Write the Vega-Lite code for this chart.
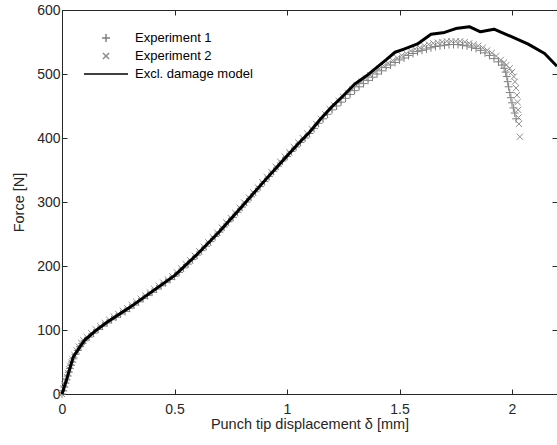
{
  "$schema": "https://vega.github.io/schema/vega-lite/v6.json",
  "width": 495,
  "height": 384,
  "autosize": "none",
  "padding": {"left": 62, "top": 10, "right": 0, "bottom": 51},
  "background": "white",
  "config": {
    "view": {"stroke": null},
    "font": "Liberation Sans",
    "axis": {"grid": false, "domainColor": "#262626", "tickColor": "#262626", "labelColor": "#262626", "titleColor": "#262626", "labelFont": "Liberation Sans", "titleFont": "Liberation Sans", "labelFontSize": 14, "titleFontSize": 14.5, "titleFontWeight": "normal", "tickSize": -5, "domainWidth": 1, "tickWidth": 1}
  },
  "datasets": {
    "exp": [
      {"x":0,"F":0,"s":"Experiment 1"},{"x":0.005,"F":5,"s":"Experiment 1"},{"x":0.01,"F":11,"s":"Experiment 1"},{"x":0.015,"F":17,"s":"Experiment 1"},{"x":0.02,"F":22,"s":"Experiment 1"},{"x":0.025,"F":28,"s":"Experiment 1"},{"x":0.03,"F":34,"s":"Experiment 1"},{"x":0.035,"F":40,"s":"Experiment 1"},{"x":0.04,"F":45,"s":"Experiment 1"},{"x":0.045,"F":50,"s":"Experiment 1"},{"x":0.05,"F":55,"s":"Experiment 1"},{"x":0.06,"F":62,"s":"Experiment 1"},{"x":0.07,"F":68,"s":"Experiment 1"},{"x":0.08,"F":74,"s":"Experiment 1"},{"x":0.09,"F":79,"s":"Experiment 1"},{"x":0.1,"F":83,"s":"Experiment 1"},{"x":0.12,"F":89,"s":"Experiment 1"},{"x":0.14,"F":95,"s":"Experiment 1"},{"x":0.16,"F":101,"s":"Experiment 1"},{"x":0.18,"F":106,"s":"Experiment 1"},{"x":0.2,"F":111,"s":"Experiment 1"},{"x":0.22,"F":116,"s":"Experiment 1"},{"x":0.24,"F":120,"s":"Experiment 1"},{"x":0.26,"F":125,"s":"Experiment 1"},{"x":0.28,"F":129,"s":"Experiment 1"},{"x":0.3,"F":134,"s":"Experiment 1"},{"x":0.32,"F":139,"s":"Experiment 1"},{"x":0.34,"F":144,"s":"Experiment 1"},{"x":0.36,"F":149,"s":"Experiment 1"},{"x":0.38,"F":154,"s":"Experiment 1"},{"x":0.4,"F":159,"s":"Experiment 1"},{"x":0.42,"F":164,"s":"Experiment 1"},{"x":0.44,"F":169,"s":"Experiment 1"},{"x":0.46,"F":174,"s":"Experiment 1"},{"x":0.48,"F":179,"s":"Experiment 1"},{"x":0.5,"F":184,"s":"Experiment 1"},{"x":0.52,"F":190,"s":"Experiment 1"},{"x":0.54,"F":197,"s":"Experiment 1"},{"x":0.56,"F":203,"s":"Experiment 1"},{"x":0.58,"F":210,"s":"Experiment 1"},{"x":0.6,"F":217,"s":"Experiment 1"},{"x":0.62,"F":224,"s":"Experiment 1"},{"x":0.64,"F":231,"s":"Experiment 1"},{"x":0.66,"F":238,"s":"Experiment 1"},{"x":0.68,"F":246,"s":"Experiment 1"},{"x":0.7,"F":253,"s":"Experiment 1"},{"x":0.72,"F":261,"s":"Experiment 1"},{"x":0.74,"F":269,"s":"Experiment 1"},{"x":0.76,"F":276,"s":"Experiment 1"},{"x":0.78,"F":284,"s":"Experiment 1"},{"x":0.8,"F":292,"s":"Experiment 1"},{"x":0.82,"F":300,"s":"Experiment 1"},{"x":0.84,"F":308,"s":"Experiment 1"},{"x":0.86,"F":316,"s":"Experiment 1"},{"x":0.88,"F":324,"s":"Experiment 1"},{"x":0.9,"F":332,"s":"Experiment 1"},{"x":0.92,"F":340,"s":"Experiment 1"},{"x":0.94,"F":348,"s":"Experiment 1"},{"x":0.96,"F":356,"s":"Experiment 1"},{"x":0.98,"F":364,"s":"Experiment 1"},{"x":1,"F":371,"s":"Experiment 1"},{"x":1.02,"F":379,"s":"Experiment 1"},{"x":1.04,"F":386,"s":"Experiment 1"},{"x":1.06,"F":393,"s":"Experiment 1"},{"x":1.08,"F":400,"s":"Experiment 1"},{"x":1.1,"F":407,"s":"Experiment 1"},{"x":1.12,"F":415,"s":"Experiment 1"},{"x":1.14,"F":423,"s":"Experiment 1"},{"x":1.16,"F":430,"s":"Experiment 1"},{"x":1.18,"F":437,"s":"Experiment 1"},{"x":1.2,"F":444,"s":"Experiment 1"},{"x":1.22,"F":450,"s":"Experiment 1"},{"x":1.24,"F":456,"s":"Experiment 1"},{"x":1.26,"F":462,"s":"Experiment 1"},{"x":1.28,"F":468,"s":"Experiment 1"},{"x":1.3,"F":474,"s":"Experiment 1"},{"x":1.32,"F":480,"s":"Experiment 1"},{"x":1.34,"F":485,"s":"Experiment 1"},{"x":1.36,"F":490,"s":"Experiment 1"},{"x":1.38,"F":495,"s":"Experiment 1"},{"x":1.4,"F":500,"s":"Experiment 1"},{"x":1.42,"F":505,"s":"Experiment 1"},{"x":1.44,"F":510,"s":"Experiment 1"},{"x":1.46,"F":514,"s":"Experiment 1"},{"x":1.48,"F":518,"s":"Experiment 1"},{"x":1.5,"F":522,"s":"Experiment 1"},{"x":1.52,"F":525,"s":"Experiment 1"},{"x":1.54,"F":529,"s":"Experiment 1"},{"x":1.56,"F":532,"s":"Experiment 1"},{"x":1.58,"F":535,"s":"Experiment 1"},{"x":1.6,"F":537,"s":"Experiment 1"},{"x":1.62,"F":539,"s":"Experiment 1"},{"x":1.64,"F":541,"s":"Experiment 1"},{"x":1.66,"F":543,"s":"Experiment 1"},{"x":1.68,"F":544,"s":"Experiment 1"},{"x":1.7,"F":545,"s":"Experiment 1"},{"x":1.72,"F":546,"s":"Experiment 1"},{"x":1.74,"F":546,"s":"Experiment 1"},{"x":1.76,"F":546,"s":"Experiment 1"},{"x":1.78,"F":545,"s":"Experiment 1"},{"x":1.8,"F":544,"s":"Experiment 1"},{"x":1.82,"F":542,"s":"Experiment 1"},{"x":1.84,"F":540,"s":"Experiment 1"},{"x":1.86,"F":537,"s":"Experiment 1"},{"x":1.88,"F":533,"s":"Experiment 1"},{"x":1.9,"F":529,"s":"Experiment 1"},{"x":1.92,"F":524,"s":"Experiment 1"},{"x":1.94,"F":519,"s":"Experiment 1"},{"x":1.955,"F":514,"s":"Experiment 1"},{"x":1.965,"F":509,"s":"Experiment 1"},{"x":1.972,"F":503,"s":"Experiment 1"},{"x":1.977,"F":496,"s":"Experiment 1"},{"x":1.981,"F":488,"s":"Experiment 1"},{"x":1.985,"F":480,"s":"Experiment 1"},{"x":1.99,"F":471,"s":"Experiment 1"},{"x":1.995,"F":463,"s":"Experiment 1"},{"x":2,"F":455,"s":"Experiment 1"},{"x":2.006,"F":447,"s":"Experiment 1"},{"x":2.012,"F":439,"s":"Experiment 1"},{"x":2.018,"F":430,"s":"Experiment 1"},
      {"x":0,"F":0,"s":"Experiment 2"},{"x":0.007,"F":9,"s":"Experiment 2"},{"x":0.012,"F":15,"s":"Experiment 2"},{"x":0.017,"F":21,"s":"Experiment 2"},{"x":0.022,"F":27,"s":"Experiment 2"},{"x":0.027,"F":33,"s":"Experiment 2"},{"x":0.032,"F":39,"s":"Experiment 2"},{"x":0.037,"F":44,"s":"Experiment 2"},{"x":0.042,"F":49,"s":"Experiment 2"},{"x":0.047,"F":54,"s":"Experiment 2"},{"x":0.055,"F":61,"s":"Experiment 2"},{"x":0.065,"F":68,"s":"Experiment 2"},{"x":0.075,"F":74,"s":"Experiment 2"},{"x":0.085,"F":80,"s":"Experiment 2"},{"x":0.095,"F":84,"s":"Experiment 2"},{"x":0.11,"F":89,"s":"Experiment 2"},{"x":0.13,"F":95,"s":"Experiment 2"},{"x":0.15,"F":101,"s":"Experiment 2"},{"x":0.17,"F":106,"s":"Experiment 2"},{"x":0.19,"F":111,"s":"Experiment 2"},{"x":0.21,"F":116,"s":"Experiment 2"},{"x":0.23,"F":121,"s":"Experiment 2"},{"x":0.25,"F":125,"s":"Experiment 2"},{"x":0.27,"F":130,"s":"Experiment 2"},{"x":0.29,"F":134,"s":"Experiment 2"},{"x":0.31,"F":139,"s":"Experiment 2"},{"x":0.33,"F":144,"s":"Experiment 2"},{"x":0.35,"F":149,"s":"Experiment 2"},{"x":0.37,"F":154,"s":"Experiment 2"},{"x":0.39,"F":159,"s":"Experiment 2"},{"x":0.41,"F":164,"s":"Experiment 2"},{"x":0.43,"F":169,"s":"Experiment 2"},{"x":0.45,"F":174,"s":"Experiment 2"},{"x":0.47,"F":179,"s":"Experiment 2"},{"x":0.49,"F":184,"s":"Experiment 2"},{"x":0.51,"F":190,"s":"Experiment 2"},{"x":0.53,"F":196,"s":"Experiment 2"},{"x":0.55,"F":203,"s":"Experiment 2"},{"x":0.57,"F":209,"s":"Experiment 2"},{"x":0.59,"F":216,"s":"Experiment 2"},{"x":0.61,"F":223,"s":"Experiment 2"},{"x":0.63,"F":230,"s":"Experiment 2"},{"x":0.65,"F":237,"s":"Experiment 2"},{"x":0.67,"F":245,"s":"Experiment 2"},{"x":0.69,"F":252,"s":"Experiment 2"},{"x":0.71,"F":260,"s":"Experiment 2"},{"x":0.73,"F":268,"s":"Experiment 2"},{"x":0.75,"F":275,"s":"Experiment 2"},{"x":0.77,"F":283,"s":"Experiment 2"},{"x":0.79,"F":291,"s":"Experiment 2"},{"x":0.81,"F":299,"s":"Experiment 2"},{"x":0.83,"F":307,"s":"Experiment 2"},{"x":0.85,"F":315,"s":"Experiment 2"},{"x":0.87,"F":323,"s":"Experiment 2"},{"x":0.89,"F":331,"s":"Experiment 2"},{"x":0.91,"F":339,"s":"Experiment 2"},{"x":0.93,"F":347,"s":"Experiment 2"},{"x":0.95,"F":355,"s":"Experiment 2"},{"x":0.97,"F":363,"s":"Experiment 2"},{"x":0.99,"F":371,"s":"Experiment 2"},{"x":1.01,"F":378,"s":"Experiment 2"},{"x":1.03,"F":386,"s":"Experiment 2"},{"x":1.05,"F":393,"s":"Experiment 2"},{"x":1.07,"F":400,"s":"Experiment 2"},{"x":1.09,"F":407,"s":"Experiment 2"},{"x":1.11,"F":414,"s":"Experiment 2"},{"x":1.13,"F":422,"s":"Experiment 2"},{"x":1.15,"F":430,"s":"Experiment 2"},{"x":1.17,"F":437,"s":"Experiment 2"},{"x":1.19,"F":445,"s":"Experiment 2"},{"x":1.21,"F":451,"s":"Experiment 2"},{"x":1.23,"F":458,"s":"Experiment 2"},{"x":1.25,"F":464,"s":"Experiment 2"},{"x":1.27,"F":470,"s":"Experiment 2"},{"x":1.29,"F":476,"s":"Experiment 2"},{"x":1.31,"F":482,"s":"Experiment 2"},{"x":1.33,"F":488,"s":"Experiment 2"},{"x":1.35,"F":493,"s":"Experiment 2"},{"x":1.37,"F":498,"s":"Experiment 2"},{"x":1.39,"F":503,"s":"Experiment 2"},{"x":1.41,"F":508,"s":"Experiment 2"},{"x":1.43,"F":513,"s":"Experiment 2"},{"x":1.45,"F":517,"s":"Experiment 2"},{"x":1.47,"F":521,"s":"Experiment 2"},{"x":1.49,"F":525,"s":"Experiment 2"},{"x":1.51,"F":529,"s":"Experiment 2"},{"x":1.53,"F":532,"s":"Experiment 2"},{"x":1.55,"F":536,"s":"Experiment 2"},{"x":1.57,"F":539,"s":"Experiment 2"},{"x":1.59,"F":541,"s":"Experiment 2"},{"x":1.61,"F":544,"s":"Experiment 2"},{"x":1.63,"F":546,"s":"Experiment 2"},{"x":1.65,"F":548,"s":"Experiment 2"},{"x":1.67,"F":549,"s":"Experiment 2"},{"x":1.69,"F":550,"s":"Experiment 2"},{"x":1.71,"F":551,"s":"Experiment 2"},{"x":1.73,"F":551,"s":"Experiment 2"},{"x":1.75,"F":551,"s":"Experiment 2"},{"x":1.77,"F":551,"s":"Experiment 2"},{"x":1.79,"F":550,"s":"Experiment 2"},{"x":1.81,"F":548,"s":"Experiment 2"},{"x":1.83,"F":546,"s":"Experiment 2"},{"x":1.85,"F":544,"s":"Experiment 2"},{"x":1.87,"F":541,"s":"Experiment 2"},{"x":1.89,"F":537,"s":"Experiment 2"},{"x":1.91,"F":533,"s":"Experiment 2"},{"x":1.93,"F":528,"s":"Experiment 2"},{"x":1.95,"F":522,"s":"Experiment 2"},{"x":1.965,"F":518,"s":"Experiment 2"},{"x":1.975,"F":514,"s":"Experiment 2"},{"x":1.99,"F":509,"s":"Experiment 2"},{"x":2,"F":503,"s":"Experiment 2"},{"x":2.008,"F":496,"s":"Experiment 2"},{"x":2.013,"F":488,"s":"Experiment 2"},{"x":2.018,"F":478,"s":"Experiment 2"},{"x":2.022,"F":467,"s":"Experiment 2"},{"x":2.025,"F":456,"s":"Experiment 2"},{"x":2.027,"F":444,"s":"Experiment 2"},{"x":2.029,"F":432,"s":"Experiment 2"},{"x":2.031,"F":422,"s":"Experiment 2"},{"x":2.035,"F":402,"s":"Experiment 2"}
    ],
    "model": [
      {"x":0,"F":0,"s":"Excl. damage model"},{"x":0.02,"F":22,"s":"Excl. damage model"},{"x":0.05,"F":58,"s":"Excl. damage model"},{"x":0.1,"F":84,"s":"Excl. damage model"},{"x":0.15,"F":99,"s":"Excl. damage model"},{"x":0.2,"F":112,"s":"Excl. damage model"},{"x":0.3,"F":135,"s":"Excl. damage model"},{"x":0.4,"F":160,"s":"Excl. damage model"},{"x":0.5,"F":185,"s":"Excl. damage model"},{"x":0.6,"F":218,"s":"Excl. damage model"},{"x":0.7,"F":254,"s":"Excl. damage model"},{"x":0.8,"F":293,"s":"Excl. damage model"},{"x":0.9,"F":333,"s":"Excl. damage model"},{"x":1.0,"F":372,"s":"Excl. damage model"},{"x":1.05,"F":391,"s":"Excl. damage model"},{"x":1.1,"F":409,"s":"Excl. damage model"},{"x":1.15,"F":430,"s":"Excl. damage model"},{"x":1.2,"F":449,"s":"Excl. damage model"},{"x":1.25,"F":466,"s":"Excl. damage model"},{"x":1.3,"F":484,"s":"Excl. damage model"},{"x":1.36,"F":499,"s":"Excl. damage model"},{"x":1.44,"F":522,"s":"Excl. damage model"},{"x":1.48,"F":534,"s":"Excl. damage model"},{"x":1.52,"F":539,"s":"Excl. damage model"},{"x":1.58,"F":547,"s":"Excl. damage model"},{"x":1.64,"F":562,"s":"Excl. damage model"},{"x":1.7,"F":565,"s":"Excl. damage model"},{"x":1.75,"F":571,"s":"Excl. damage model"},{"x":1.81,"F":574,"s":"Excl. damage model"},{"x":1.86,"F":566,"s":"Excl. damage model"},{"x":1.92,"F":570,"s":"Excl. damage model"},{"x":2.0,"F":558,"s":"Excl. damage model"},{"x":2.07,"F":547,"s":"Excl. damage model"},{"x":2.145,"F":532,"s":"Excl. damage model"},{"x":2.2,"F":512,"s":"Excl. damage model"}
    ]
  },
  "layer": [
    {
      "data": {"name": "exp"},
      "mark": {"type": "point", "filled": false, "opacity": 1, "size": 1936, "strokeWidth": 1},
      "encoding": {
        "x": {"field": "x", "type": "quantitative", "scale": {"domain": [0, 2.2], "nice": false},
          "axis": {"values": [0, 0.5, 1, 1.5, 2], "format": "~g", "title": "Punch tip displacement δ [mm]", "labelPadding": 13, "titlePadding": 1, "labelFlush": false}},
        "y": {"field": "F", "type": "quantitative", "scale": {"domain": [0, 600], "nice": false},
          "axis": {"values": [0, 100, 200, 300, 400, 500, 600], "title": "Force [N]", "labelPadding": 7, "titlePadding": 10, "labelFlush": false}},
        "color": {"field": "s", "type": "nominal",
          "scale": {"domain": ["Experiment 1", "Experiment 2", "Excl. damage model"], "range": ["#7f7f7f", "#8c8c8c", "#000000"]},
          "legend": {"title": null, "orient": "none", "legendX": 21, "legendY": 19, "columns": 1, "clipHeight": 18, "rowPadding": 0, "padding": 0, "labelOffset": 6, "labelFont": "Liberation Sans", "labelFontSize": 13, "labelColor": "#000000", "symbolOpacity": 1, "symbolSize": 1936,
            "encode": {"symbols": {"update": {"strokeWidth": {"signal": "datum.value === 'Excl. damage model' ? 3 : 1"}}}}}},
        "shape": {"field": "s", "type": "nominal",
          "scale": {"domain": ["Experiment 1", "Experiment 2", "Excl. damage model"], "range": ["M-0.18,0L0.18,0M0,-0.18L0,0.18", "M-0.14,-0.14L0.14,0.14M-0.14,0.14L0.14,-0.14", "stroke"]},
          "legend": {"title": null, "orient": "none", "legendX": 21, "legendY": 19, "columns": 1, "clipHeight": 18, "rowPadding": 0, "padding": 0, "labelOffset": 6, "labelFont": "Liberation Sans", "labelFontSize": 13, "labelColor": "#000000", "symbolOpacity": 1, "symbolSize": 1936,
            "encode": {"symbols": {"update": {"strokeWidth": {"signal": "datum.value === 'Excl. damage model' ? 3 : 1"}}}}}}
      }
    },
    {
      "data": {"name": "model"},
      "mark": {"type": "line", "strokeWidth": 3, "strokeJoin": "round"},
      "encoding": {
        "x": {"field": "x", "type": "quantitative",
          "axis": {"orient": "top", "values": [0, 0.5, 1, 1.5, 2], "labels": false, "title": null, "domain": true}},
        "y": {"field": "F", "type": "quantitative",
          "axis": {"orient": "right", "values": [0, 100, 200, 300, 400, 500, 600], "labels": false, "title": null, "domain": false}},
        "color": {"field": "s", "type": "nominal"}
      }
    }
  ],
  "resolve": {"axis": {"x": "independent", "y": "independent"}}
}
